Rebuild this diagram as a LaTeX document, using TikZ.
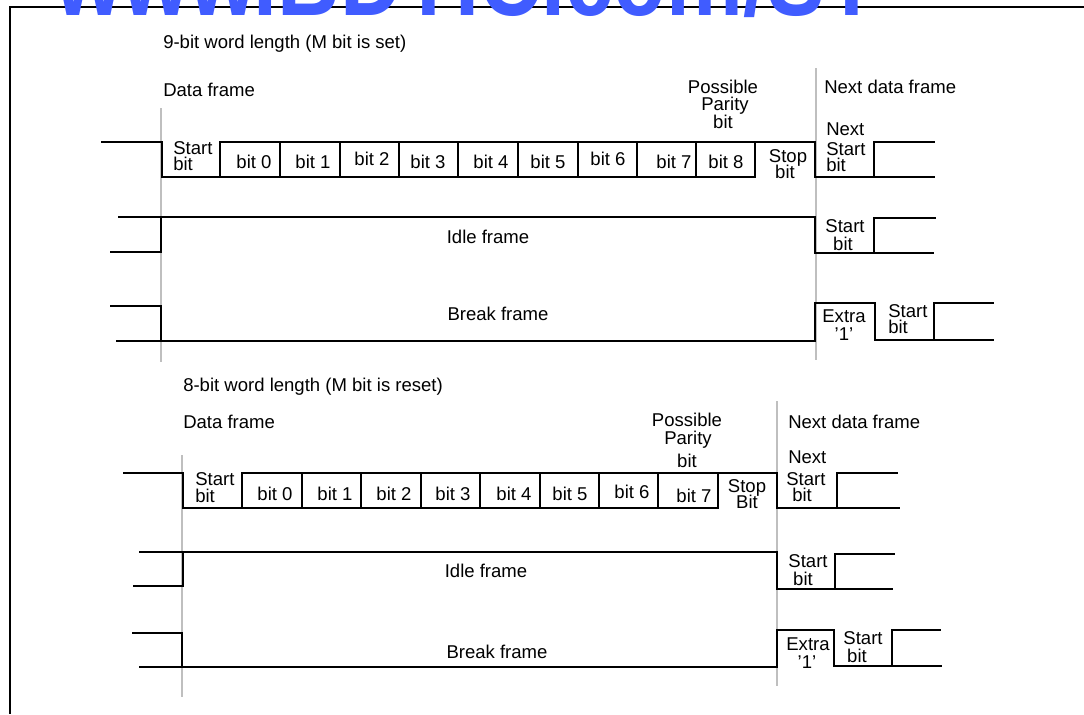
\documentclass[tikz,border=0pt]{standalone}
\usepackage{fontspec}
\setmainfont{Liberation Sans}
\definecolor{wmblue}{RGB}{64,92,255}
\begin{document}
\begin{tikzpicture}[x=0.75pt,y=-0.75pt,
  wave/.style={line width=1.1pt, line join=miter},
  guide/.style={draw=black!25, line width=0.8pt},
  framebox/.style={line width=1.5pt},
  txt/.style={font=\fontsize{13.9}{14}\selectfont, inner sep=0pt, anchor=base},
  txtl/.style={txt, anchor=base west}]
\useasboundingbox (0,0) rectangle (1084,714);
\clip (0,0) rectangle (1084,714);

% outer frame
\draw[framebox] (1084,7) -- (10,7) -- (10,714);
% watermark
\node[anchor=base west, inner sep=0pt, text=wmblue, font=\fontsize{80}{80}\bfseries\selectfont] (wm) at (55,15) {\scalebox{0.81}[1]{www.BDTIC.com/ST}};

% ================= 9-bit section =================
\node[txtl] (t1) at (163,48) {9-bit word length (M bit is set)};
\node[txtl] (df1) at (163,96) {Data frame};
\node[txt] (pp1a) at (723,93) {Possible};
\node[txt] (pp1b) at (725,110) {Parity};
\node[txt] (pp1c) at (723,128) {bit};
\node[txtl] (nd1) at (824,93) {Next data frame};

\draw[guide] (161,108) -- (161,362);
\draw[guide] (816,68) -- (816,360);

% data frame row
\draw[wave] (101,142) -- (162,142) -- (162,177) -- (755,177) -- (755,142);
\draw[wave] (220,177) -- (220,142) -- (815,142) -- (815,177) -- (935,177);
\foreach \x in {280,340,399,458,518,578,637,696} \draw[wave] (\x,142) -- (\x,177);
\draw[wave] (874,177) -- (874,142) -- (935,142);

\node[txtl] (s1a) at (173,154) {Start};
\node[txtl] (s1b) at (173,170) {bit};
\node[txt] (b10) at (254,168) {bit 0};
\node[txt] (b11) at (313,168) {bit 1};
\node[txt] (b12) at (372,165) {bit 2};
\node[txt] (b13) at (428,168) {bit 3};
\node[txt] (b14) at (491,168) {bit 4};
\node[txt] (b15) at (548,168) {bit 5};
\node[txt] (b16) at (608,165) {bit 6};
\node[txt] (b17) at (674,168) {bit 7};
\node[txt] (b18) at (726,168) {bit 8};
\node[txt] (st1a) at (788,162) {Stop};
\node[txt] (st1b) at (785,178) {bit};
\node[txtl] (ns1a) at (826,135) {Next};
\node[txtl] (ns1b) at (826,155) {Start};
\node[txtl] (ns1c) at (826,171) {bit};

% idle frame row
\draw[wave] (110,252) -- (161,252) -- (161,217);
\draw[wave] (118,217) -- (815,217) -- (815,253) -- (934,253);
\draw[wave] (874,253) -- (874,218) -- (936,218);
\node[txt] (idle1) at (488,243) {Idle frame};
\node[txt] (is1a) at (845,232) {Start};
\node[txt] (is1b) at (843,250) {bit};

% break frame row
\draw[wave] (110,306) -- (161,306) -- (161,341);
\draw[wave] (116,341) -- (815,341) -- (815,303) -- (875,303) -- (875,340) -- (994,340);
\draw[wave] (934,340) -- (934,303) -- (994,303);
\node[txt] (brk1) at (498,320) {Break frame};
\node[txt] (ex1a) at (844,322) {Extra};
\node[txt] (ex1b) at (844,340) {’1’};
\node[txtl] (bs1a) at (888,317) {Start};
\node[txtl] (bs1b) at (888,333) {bit};

% ================= 8-bit section =================
\node[txtl] (t2) at (183,391) {8-bit word length (M bit is reset)};
\node[txtl] (df2) at (183,428) {Data frame};
\node[txt] (pp2a) at (687,426) {Possible};
\node[txt] (pp2b) at (688,444) {Parity};
\node[txt] (pp2c) at (687,467) {bit};
\node[txtl] (nd2) at (788,428) {Next data frame};

\draw[guide] (182,455) -- (182,697);
\draw[guide] (777,401) -- (777,686);

% data frame row
\draw[wave] (123,473) -- (183,473) -- (183,508) -- (718,508) -- (718,473);
\draw[wave] (242,508) -- (242,473) -- (777,473) -- (777,508) -- (900,508);
\foreach \x in {302,361,421,480,540,599,658} \draw[wave] (\x,473) -- (\x,508);
\draw[wave] (837,508) -- (837,473) -- (898,473);

\node[txtl] (s2a) at (195,485) {Start};
\node[txtl] (s2b) at (195,502) {bit};
\node[txt] (b20) at (275,500) {bit 0};
\node[txt] (b21) at (335,500) {bit 1};
\node[txt] (b22) at (394,500) {bit 2};
\node[txt] (b23) at (453,500) {bit 3};
\node[txt] (b24) at (514,500) {bit 4};
\node[txt] (b25) at (570,500) {bit 5};
\node[txt] (b26) at (632,498) {bit 6};
\node[txt] (b27) at (694,502) {bit 7};
\node[txt] (st2a) at (747,492) {Stop};
\node[txt] (st2b) at (747,508) {Bit};
\node[txtl] (ns2a) at (788,463) {Next};
\node[txtl] (ns2b) at (786,485) {Start};
\node[txtl] (ns2c) at (792,501) {bit};

% idle frame row
\draw[wave] (133,586) -- (183,586) -- (183,552);
\draw[wave] (139,552) -- (777,552) -- (777,589) -- (893,589);
\draw[wave] (835,589) -- (835,554) -- (895,554);
\node[txt] (idle2) at (486,577) {Idle frame};
\node[txt] (is2a) at (808,567) {Start};
\node[txt] (is2b) at (803,585) {bit};

% break frame row
\draw[wave] (132,633) -- (182,633) -- (182,667);
\draw[wave] (139,667) -- (777,667) -- (777,630) -- (834,630) -- (834,666) -- (942,666);
\draw[wave] (892,666) -- (892,630) -- (941,630);
\node[txt] (brk2) at (497,658) {Break frame};
\node[txt] (ex2a) at (808,650) {Extra};
\node[txt] (ex2b) at (807,668) {’1’};
\node[txt] (bs2a) at (863,644) {Start};
\node[txt] (bs2b) at (857,662) {bit};
\end{tikzpicture}
\end{document}
